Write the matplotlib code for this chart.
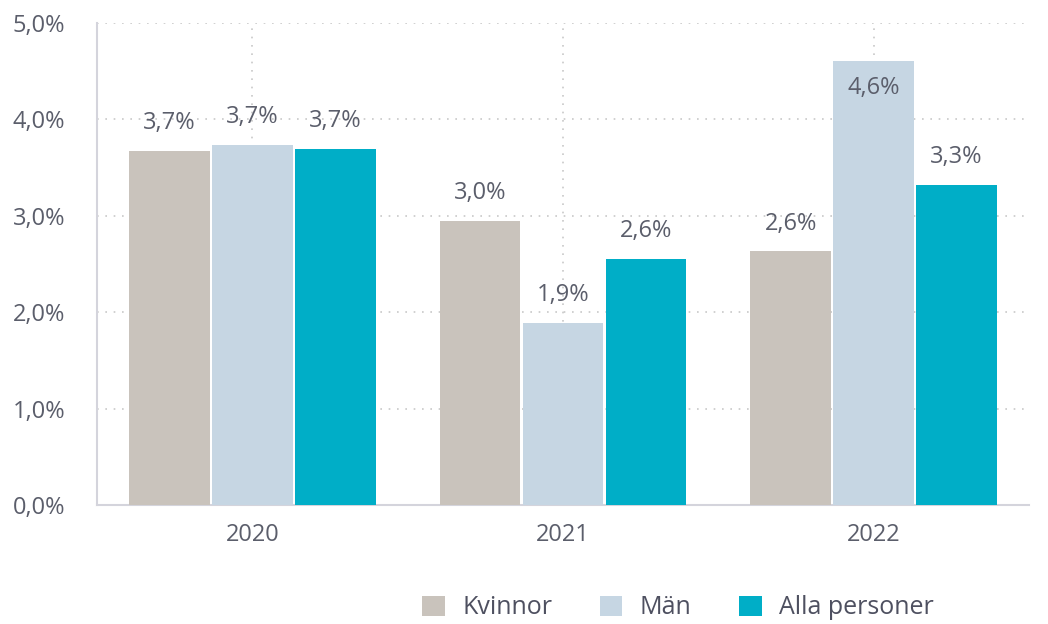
import matplotlib.pyplot as plt
import numpy as np

plt.rcParams['font.family'] = ['Open Sans', 'DejaVu Sans']

years = ['2020', '2021', '2022']
series = ['Kvinnor', 'Män', 'Alla personer']
kvinnor = [3.67, 2.95, 2.63]
man = [3.73, 1.89, 4.61]
alla = [3.69, 2.55, 3.32]
labels = [['3,7%', '3,0%', '2,6%'],
          ['3,7%', '1,9%', '4,6%'],
          ['3,7%', '2,6%', '3,3%']]
colors = ['#c9c3bc', '#c6d6e3', '#00aec7']
text_col = '#5b5e6b'

fig = plt.figure(figsize=(10.48, 6.24), dpi=100)
ax = fig.add_axes([97/1048, 1-505/624, 932/1048, (505-23)/624])

x = np.arange(len(years))
w = 0.259
for i, (vals, col) in enumerate(zip([kvinnor, man, alla], colors)):
    pos = x + (i-1)*0.267
    ax.bar(pos, vals, w, color=col, label=series[i], zorder=3)
    for p, v, lab in zip(pos, vals, labels[i]):
        # the tallest bar gets its label inside
        if v > 4.4:
            ax.text(p, v-0.28, lab, ha='center', va='center', fontsize=17, color=text_col, zorder=4)
        else:
            ax.text(p, v+0.29, lab, ha='center', va='center', fontsize=17, color=text_col, zorder=4)

ax.set_xlim(-0.5, 2.5)
ax.set_ylim(0, 5)
ax.set_yticks(np.arange(0, 6))
ax.set_yticklabels(['0,0%', '1,0%', '2,0%', '3,0%', '4,0%', '5,0%'])
ax.set_xticks(x)
ax.set_xticklabels(years)
ax.tick_params(length=0, labelsize=17, labelcolor=text_col)
ax.tick_params(axis='y', pad=23)
ax.tick_params(axis='x', pad=13)

ax.grid(True, color='#c8c8c8', linestyle=(0, (1, 4)), linewidth=1.2, zorder=0)
for s in ['top', 'right']:
    ax.spines[s].set_visible(False)
for s in ['left', 'bottom']:
    ax.spines[s].set_color('#d4d4dc')
    ax.spines[s].set_linewidth(1.5)

leg = fig.legend(loc='center', bbox_to_anchor=(678/1048, 1-608/624), ncol=3, frameon=False,
                 fontsize=18, handlelength=0.9, handleheight=0.9, columnspacing=1.9, handletextpad=0.7)
for t in leg.get_texts():
    t.set_color('#4e5060')

fig.savefig('out.png', dpi=100)
